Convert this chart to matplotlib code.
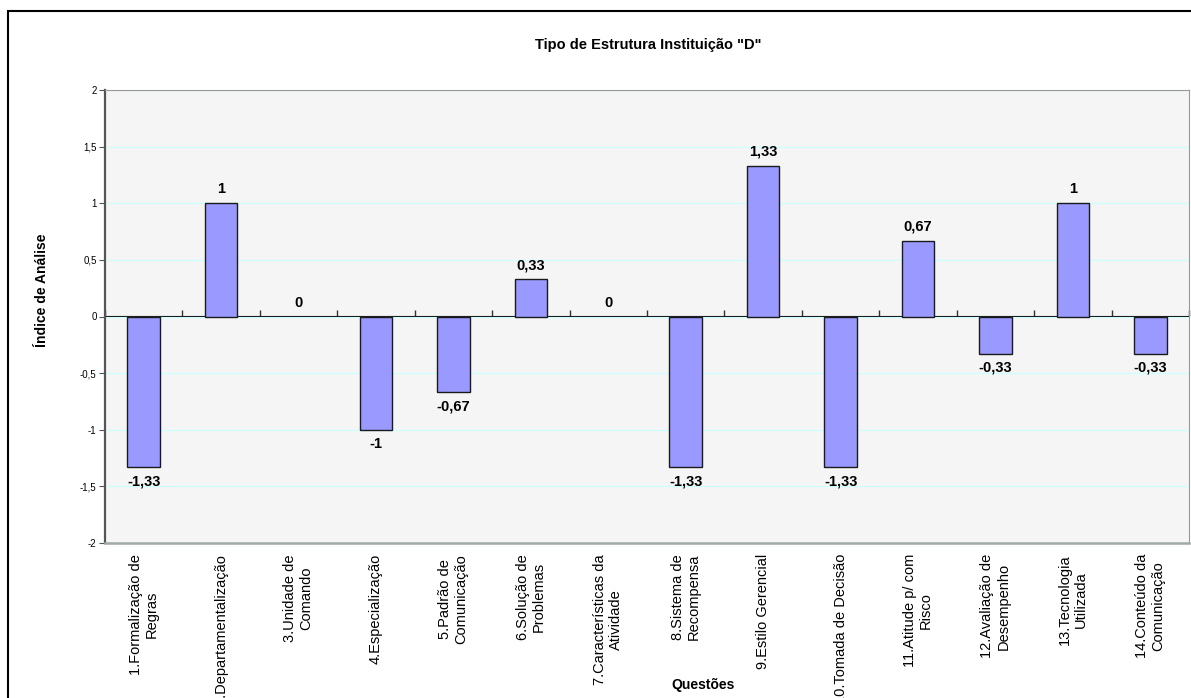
import matplotlib
matplotlib.use("Agg")
import matplotlib.pyplot as plt
from matplotlib.patches import Rectangle
import numpy as np

# categories and values
questoes = [
    "1.Formalização de\nRegras",
    "2.Departamentalização",
    "3.Unidade de\nComando",
    "4.Especialização",
    "5.Padrão de\nComunicação",
    "6.Solução de\nProblemas",
    "7.Características da\nAtividade",
    "8.Sistema de\nRecompensa",
    "9.Estilo Gerencial",
    "10.Tomada de Decisão",
    "11.Atitude p/ com\nRisco",
    "12.Avaliação de\nDesempenho",
    "13.Tecnologia\nUtilizada",
    "14.Conteúdo da\nComunicação",
]
indices = [-1.33, 1, 0, -1, -0.67, 0.33, 0, -1.33, 1.33, -1.33, 0.67, -0.33, 1, -0.33]
y_ticks = [-2, -1.5, -1, -0.5, 0, 0.5, 1, 1.5, 2]


def fmt_br(v):
    """numero com virgula decimal"""
    s = ("%.2f" % v).rstrip("0").rstrip(".")
    if s == "-0":
        s = "0"
    return s.replace(".", ",")


plt.rcParams["font.family"] = ["Liberation Sans", "DejaVu Sans"]

W, H = 1191, 698
fig = plt.figure(figsize=(W / 100, H / 100), dpi=100)
ax = fig.add_axes([105 / W, 1 - 543 / H, (1189 - 105) / W, (543 - 90) / H])
ax.set_facecolor("#F5F5F5")

x = np.arange(len(questoes))
# barras de altura zero nao mostram contorno
lws = [1 if v != 0 else 0 for v in indices]
ax.bar(x, indices, width=0.42, color="#9999FF", edgecolor="#1a1a1a", linewidth=lws, zorder=3)

# rotulos de dados
for xi, v in zip(x, indices):
    if v >= 0:
        ax.annotate(fmt_br(v), (xi, v), xytext=(0, 5), textcoords="offset points",
                    ha="center", va="bottom", fontsize=10.5, fontweight="bold", zorder=4)
    else:
        ax.annotate(fmt_br(v), (xi, v), xytext=(0, -5), textcoords="offset points",
                    ha="center", va="top", fontsize=10.5, fontweight="bold", zorder=4)

ax.set_xlim(-0.5, len(questoes) - 0.5)
ax.set_ylim(-2, 2)
ax.set_yticks(y_ticks)
ax.set_yticklabels([fmt_br(t) for t in y_ticks], fontsize=7)
ax.tick_params(axis="y", direction="out", length=4, color="#555555", pad=2)
ax.yaxis.grid(True, color="#CCFFFF", linewidth=0.9, zorder=1)
ax.set_axisbelow(True)

ax.set_xticks(x)
ax.set_xticklabels(questoes, rotation=90, ha="center", va="top",
                   multialignment="center", fontsize=10.5)
ax.tick_params(axis="x", length=0, pad=8)

# eixo x na linha do zero, com marcas entre categorias
secax = ax.secondary_xaxis(0.5)
secax.set_xticks(np.arange(len(questoes) + 1) - 0.5)
secax.set_xticklabels([])
secax.tick_params(direction="out", length=4, color="#333333", width=1)
secax.spines["bottom"].set_color("#222222")
secax.spines["bottom"].set_linewidth(1)

ax.spines["left"].set_color("#555555")
ax.spines["left"].set_linewidth(1.6)
ax.spines["top"].set_color("#999999")
ax.spines["right"].set_color("#999999")
ax.spines["bottom"].set_color("#A0A8A8")
ax.spines["bottom"].set_linewidth(1.8)

fig.text(648 / W, 1 - 45 / H, 'Tipo de Estrutura Instituição "D"', ha="center", va="center",
         fontsize=10.5, fontweight="bold")
fig.text(42 / W, 1 - 290 / H, "Índice de Análise", ha="center", va="center", rotation=90,
         fontsize=10, fontweight="bold")
fig.text(703 / W, 1 - 685 / H, "Questões", ha="center", va="center",
         fontsize=10, fontweight="bold")

# moldura do grafico
fig.patches.append(Rectangle((8 / W, -0.1), 1.2, 1 - 11 / H + 0.1, transform=fig.transFigure,
                             fill=False, edgecolor="black", linewidth=1.5))

fig.savefig("out.png", dpi=100)
